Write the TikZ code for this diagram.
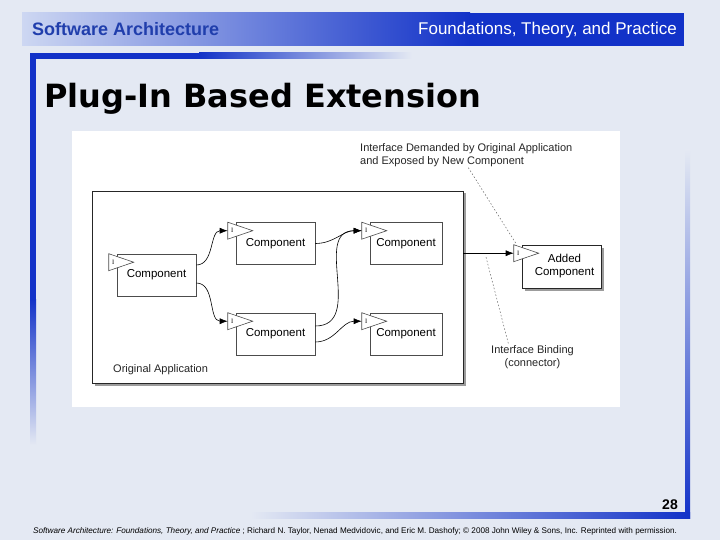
\documentclass[tikz,border=0pt]{standalone}
\usepackage{fontspec}
\setmainfont{Liberation Sans}
\newfontfamily\titlefont{DejaVu Sans}
\newfontfamily\ifacefont{Liberation Serif}
\usetikzlibrary{arrows.meta,shadows,positioning}
\definecolor{bg}{RGB}{228,233,243}
\definecolor{barblue}{RGB}{18,50,200}
\definecolor{barlight}{RGB}{205,215,242}
\definecolor{hdrtext}{RGB}{32,62,172}

\begin{document}
\begin{tikzpicture}[x=1pt,y=-1pt,
  comp/.style={draw=black!70,fill=white,line width=0.6pt,minimum width=79pt,
    minimum height=42pt,inner sep=0pt,align=center,font=\fontsize{11.5}{13}\selectfont},
  appbox/.style={draw=black!85,fill=white,line width=0.8pt,
    drop shadow={shadow xshift=2.5pt,shadow yshift=-2.5pt,opacity=0.55,fill=black!70}},
  iface/.style={draw=black!70,fill=white,line width=0.6pt},
  ilabel/.style={inner sep=0pt,font=\ifacefont\fontsize{6.5}{6.5}\selectfont},
  note/.style={inner sep=0pt,text=black!85,font=\fontsize{11}{13}\selectfont},
  wire/.style={->,>={Latex[length=8pt,width=6pt]},line width=0.6pt},
  dotline/.style={draw=black!60,line width=0.5pt,dash pattern=on 1.5pt off 2pt}]
\useasboundingbox (0,0) rectangle (720,540);
\fill[bg] (0,0) rectangle (720,540);

% slide frame
\shade[left color=barlight,right color=barblue] (22,13) rectangle (470,46);
\fill[barblue] (469,13) rectangle (684,46);
\fill[barblue] (30,53) rectangle (200,59);
\shade[left color=barblue,right color=bg] (199,53) rectangle (412,59);
\fill[barblue] (30,53) rectangle (36,300);
\shade[top color=barblue,bottom color=bg] (30,299) rectangle (36,445);
\shade[top color=bg,bottom color=barblue] (685,150) rectangle (690,518);
\shade[left color=bg,right color=barblue] (250,512) rectangle (690,518);

\node[anchor=base west,inner sep=0pt,text=hdrtext,font=\bfseries\fontsize{18}{20}\selectfont] (Hdr) at (32,36) {Software Architecture};
\node[anchor=base east,inner sep=0pt,text=white,font=\fontsize{17}{20}\selectfont] (Sub) at (677,35) {Foundations, Theory, and Practice};
\node[anchor=base west,inner sep=0pt,font=\titlefont\bfseries\fontsize{32}{36}\selectfont] (Title) at (44,108) {Plug-In Based Extension};

% diagram
\fill[white] (72,131) rectangle (620,407);
\node[appbox,minimum width=371pt,minimum height=192pt] (App) at (277.5,287) {};
\node[note,anchor=base west] (Orig) at (113,372) {Original Application};

\node[comp] (C1) at (156.5,275) {Component};
\node[comp] (C2) at (275.5,243.5) {Component};
\node[comp] (C3) at (275.5,334) {Component};
\node[comp,minimum width=72pt] (C4) at (406,243.5) {Component};
\node[comp,minimum width=72pt] (C5) at (406,334) {Component};
\node[comp,appbox,line width=0.6pt,minimum height=43pt] (Add) at (561.5,266.5) {\hspace*{6pt}Added\\\hspace*{6pt}Component};

\foreach \n in {C1,C2,C3,C4,C5,Add} {
  \coordinate (P\n) at ([xshift=-8pt,yshift=-8.5pt]\n.north west);
  \draw[iface] ([yshift=8.5pt]P\n) -- ([yshift=-8.5pt]P\n) -- ([xshift=25pt]P\n) -- cycle;
  \node[ilabel] (I\n) at ([xshift=4.5pt]P\n) {I};
}

\path[wire] ([yshift=10pt]C1.east) edge[out=0,in=180] node[]{} (PC2);
\path[wire] ([yshift=-8pt]C1.east) edge[out=0,in=180] node[]{} (PC3);
\path[wire] (C2.east) edge[out=0,in=180] node[]{} (PC4);
\path[wire] ([yshift=8pt]C3.east) edge[out=0,in=180,looseness=1.2] node[]{} (PC4);
\path[wire] ([yshift=-8pt]C3.east) edge[out=0,in=180] node[]{} (PC5);
\path[wire] (App.east |- PAdd) edge[] coordinate[pos=0.45] (Bpt) (PAdd);

\node[note,anchor=north west,align=left] (Dem) at (360,143) {Interface Demanded by Original Application\\and Exposed by New Component};
\node[note,align=center] (Bind) at (532.5,357) {Interface Binding\\(connector)};
\draw[dotline] ([xshift=2pt,yshift=-1pt]Dem.south) -- ([xshift=3pt,yshift=8.5pt]PAdd);
\draw[dotline] ([yshift=-4pt]Bpt) -- ([xshift=-24pt,yshift=1pt]Bind.north);

% page foot
\node[anchor=base east,inner sep=0pt,font=\bfseries\fontsize{14}{16}\selectfont] (Num) at (678,509) {28};
\node[anchor=base west,inner sep=0pt,font=\fontsize{8.15}{9}\selectfont] (Foot) at (33,533) {\textit{Software Architecture: Foundations, Theory, and Practice} ; Richard N. Taylor, Nenad Medvidovic, and Eric M. Dashofy; © 2008 John Wiley \& Sons, Inc. Reprinted with permission.};
\end{tikzpicture}
\end{document}
